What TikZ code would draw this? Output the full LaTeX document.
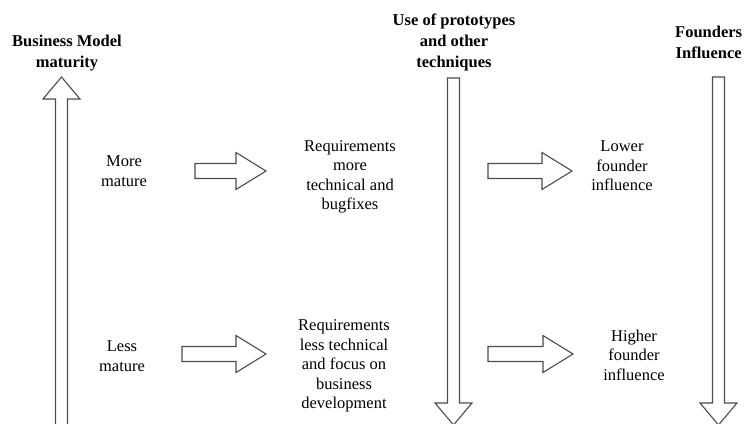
\documentclass[tikz,border=0pt]{standalone}
\usepackage{fontspec}
\setmainfont{Liberation Serif}
\usepackage{tikz}

% block arrows, drawn in pixel units (y points down)
\newcommand{\rarrow}[3]{% start x, tip x, middle y
  \draw[blockarrow] ({#1},{#3-7.5}) -- ({#2-30},{#3-7.5}) -- ({#2-30},{#3-18.5})
    -- ({#2},{#3}) -- ({#2-30},{#3+18.5}) -- ({#2-30},{#3+7.5}) -- ({#1},{#3+7.5}) -- cycle;}
\newcommand{\varrow}[4]{% middle x, start y, tip y, direction (+1 down, -1 up)
  \draw[blockarrow] ({#1-6},{#2}) -- ({#1-6},{#3-#4*22}) -- ({#1-18.5},{#3-#4*22})
    -- ({#1},{#3}) -- ({#1+18.5},{#3-#4*22}) -- ({#1+6},{#3-#4*22}) -- ({#1+6},{#2}) -- cycle;}

\begin{document}
\begin{tikzpicture}[x=1pt,y=-1pt,
  blockarrow/.style={draw=black!70, line width=1.1pt, fill=white, line join=miter},
  heading/.style={font=\fontsize{16.5}{21}\selectfont\bfseries, align=center, inner sep=0pt},
  label/.style={font=\fontsize{16.5}{19.5}\selectfont, align=center, inner sep=0pt}]
\clip (0,0) rectangle (744,423);

% headings
\node[heading] (bm) at (67,53) {Business Model\\maturity};
\node[heading] (proto) at (454,42) {Use of prototypes\\and other\\techniques};
\node[heading, anchor=west] (found) at (675,42.5) {Founders\\Influence};

% vertical arrows
\varrow{61.5}{430}{77}{-1}
\varrow{453.5}{78}{425}{1}
\varrow{718.5}{77}{425}{1}

% upper row
\node[label] (more) at (124,171) {More\\mature};
\rarrow{195}{266}{171}
\node[label] (reqmore) at (350,177) {Requirements\\more\\technical and\\bugfixes};
\rarrow{488}{572}{171}
\node[label] (lower) at (622,166) {Lower\\founder\\influence};

% lower row
\node[label] (less) at (122,356) {Less\\mature};
\rarrow{182}{266}{354}
\node[label] (reqless) at (344,366) {Requirements\\less technical\\and focus on\\business\\development};
\rarrow{488}{573}{354}
\node[label] (higher) at (634,355) {Higher\\founder\\influence};

\end{tikzpicture}
\end{document}
